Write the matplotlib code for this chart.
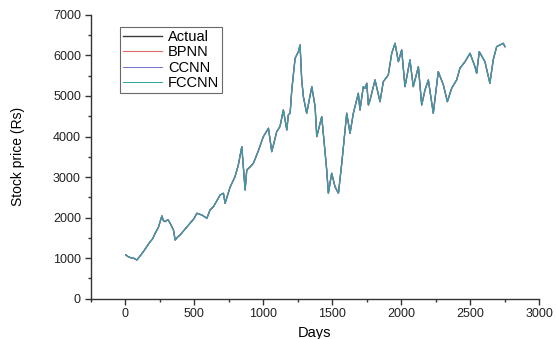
import numpy as np
import matplotlib.pyplot as plt
from matplotlib.ticker import MultipleLocator

# values
days = [5, 20, 40, 60, 85, 110, 132, 160, 181, 200, 217, 240, 266, 278, 290, 310,
        326, 350, 362, 380, 398, 430, 470, 500, 519, 555, 592, 615, 640, 665, 688,
        712, 724, 760, 796, 820, 845, 869, 881, 905, 929, 965, 1001, 1038, 1062,
        1098, 1122, 1146, 1171, 1182, 1195, 1207, 1231, 1255, 1267, 1279, 1291,
        1315, 1352, 1376, 1388, 1424, 1460, 1472, 1496, 1520, 1545, 1569, 1605,
        1629, 1653, 1689, 1701, 1725, 1738, 1750, 1762, 1774, 1810, 1846, 1870,
        1906, 1931, 1955, 1979, 2003, 2027, 2063, 2087, 2124, 2148, 2172, 2196,
        2232, 2268, 2305, 2334, 2365, 2401, 2425, 2462, 2498, 2534, 2546, 2565,
        2606, 2642, 2666, 2691, 2715, 2739, 2751]
actual = [1080, 1040, 1010, 1000, 955, 1060, 1160, 1300, 1406, 1480, 1613, 1750,
          2040, 1920, 1900, 1950, 1860, 1695, 1448, 1520, 1571, 1700, 1860, 1980,
          2107, 2065, 1983, 2188, 2270, 2420, 2558, 2600, 2353, 2750, 3010, 3300,
          3750, 2682, 3175, 3250, 3340, 3650, 3997, 4204, 3626, 4120, 4250, 4655,
          4162, 4532, 4574, 5149, 5931, 6094, 6259, 5395, 4983, 4574, 5230, 4737,
          3997, 4490, 3175, 2600, 3094, 2763, 2600, 3340, 4574, 4080, 4574, 5067,
          4655, 5230, 5190, 5314, 4778, 4902, 5395, 4860, 5353, 5518, 6054, 6300,
          5847, 6135, 5230, 5889, 5230, 5723, 4778, 5149, 5395, 4574, 5600, 5272,
          4860, 5190, 5395, 5684, 5847, 6054, 5723, 5560, 6094, 5847, 5314, 5889,
          6217, 6259, 6300, 6217]
# the three model outputs sit on top of the actual curve at this scale
bpnn = list(actual)
ccnn = list(actual)
fccnn = list(actual)

series = [
    ("Actual", actual, "#3a3a3a", 1.0),
    ("BPNN", bpnn, "#e06a6a", 0.8),
    ("CCNN", ccnn, "#7a78d6", 0.75),
    ("FCCNN", fccnn, "#2aa3a0", 0.7),
]

plt.rcParams['font.family'] = ['Liberation Sans', 'DejaVu Sans']

fig = plt.figure(figsize=(5.56, 3.39), dpi=100)
ax = fig.add_axes([0.163, 0.119, 0.807, 0.837])

for name, vals, col, lw in series:
    ax.plot(days, vals, color=col, lw=lw, label=name)

ax.set_xlim(-250, 3000)
ax.set_ylim(0, 7000)
ax.xaxis.set_major_locator(MultipleLocator(500))
ax.xaxis.set_minor_locator(MultipleLocator(250))
ax.yaxis.set_major_locator(MultipleLocator(1000))
ax.yaxis.set_minor_locator(MultipleLocator(500))

for s in ['top', 'right']:
    ax.spines[s].set_visible(False)
for s in ['left', 'bottom']:
    ax.spines[s].set_color('#333333')
    ax.spines[s].set_linewidth(1.0)

ax.tick_params(which='major', direction='out', length=4, width=1.0,
               color='#333333', labelcolor='#222222', labelsize=9, pad=3)
ax.tick_params(which='minor', direction='out', length=2.5, width=1.0,
               color='#333333')

ax.set_xlabel("Days", fontsize=10.5, labelpad=4)
ax.set_ylabel("Stock price (Rs)", fontsize=10, labelpad=20)

leg = ax.legend(loc='upper left', bbox_to_anchor=(0.065, 0.958), borderaxespad=0,
                fontsize=10.5, labelspacing=0.1, handlelength=2.7,
                handletextpad=0.4, borderpad=0.2, frameon=True, fancybox=False)
leg.get_frame().set_edgecolor('#444444')
leg.get_frame().set_linewidth(0.8)

fig.savefig("out.png", dpi=100)
